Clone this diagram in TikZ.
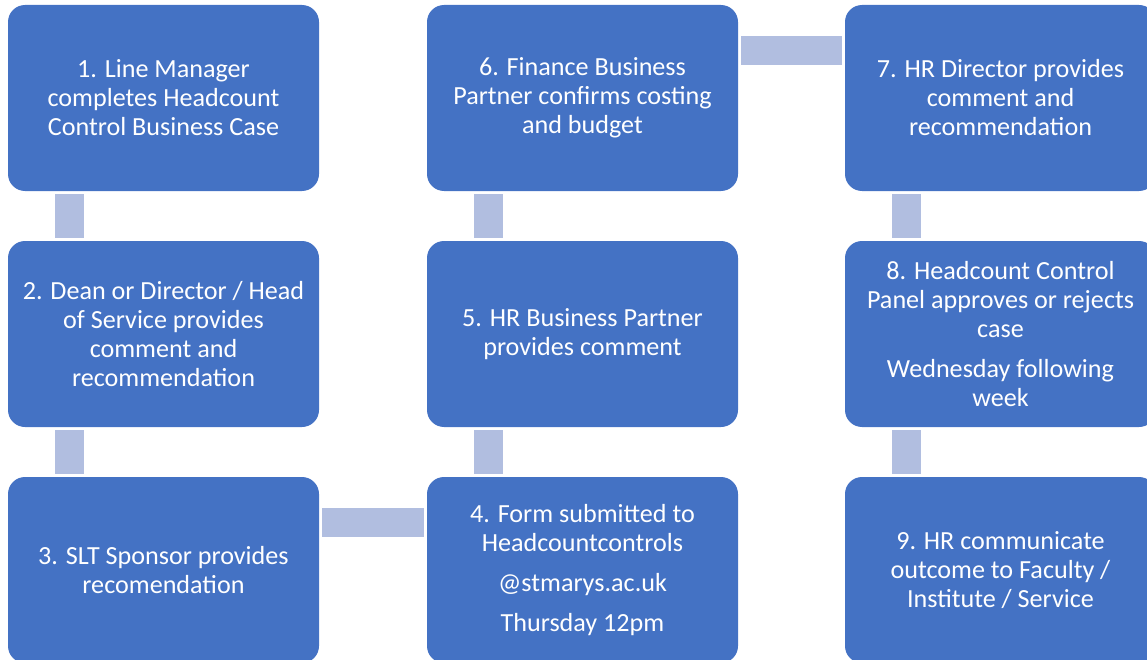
\documentclass[tikz,border=0pt]{standalone}
\usepackage{fontspec}
\setmainfont{Carlito}
\usetikzlibrary{shapes}

\begin{document}
\begin{tikzpicture}[x = 0.75pt, y = -0.75pt]
\tikzstyle{boxStyle}=[shape = rectangle, rounded corners = 12.75pt, fill = boxBlue, draw = none, text = white, minimum width = 233.25pt, minimum height = 139.5pt, inner sep = 0pt, align = center, font = \fontsize{19.6pt}{21.75pt}\selectfont]
\tikzstyle{linkStyle}=[draw = linkBlue, line width = 21.75pt, shorten > = 2.25pt, shorten < = 2.25pt]
\definecolor{boxBlue}{HTML}{4472C4}
\definecolor{linkBlue}{HTML}{B1BEE0}
\useasboundingbox (0,0) rectangle (1147,660);
\clip (0,0) rectangle (1147,660);
\node[style = boxStyle] (b1) at (163.5,98) {1. Line Manager\\completes Headcount\\Control Business Case};
\node[style = boxStyle] (b2) at (163.5,334) {2. Dean or Director / Head\\of Service provides\\comment and\\recommendation};
\node[style = boxStyle] (b3) at (163.5,570) {3. SLT Sponsor provides\\recomendation};
\node[style = boxStyle] (b4) at (582.5,570) {4. Form submitted to\\Headcountcontrols\\[8pt]@stmarys.ac.uk\\[8pt]Thursday 12pm};
\node[style = boxStyle] (b5) at (582.5,334) {5. HR Business Partner\\provides comment};
\node[style = boxStyle] (b6) at (582.5,98) {6. Finance Business\\Partner confirms costing\\and budget};
\node[style = boxStyle] (b7) at (1000.5,98) {7. HR Director provides\\comment and\\recommendation};
\node[style = boxStyle] (b8) at (1000.5,334) {8. Headcount Control\\Panel approves or rejects\\case\\[8pt]Wednesday following\\week};
\node[style = boxStyle] (b9) at (1000.5,570) {9. HR communicate\\outcome to Faculty /\\Institute / Service};
\draw[style = linkStyle] ([xshift = 46.5pt]b1.south west) -- ([xshift = 46.5pt]b2.north west);
\draw[style = linkStyle] ([xshift = 46.5pt]b2.south west) -- ([xshift = 46.5pt]b3.north west);
\draw[style = linkStyle] ([yshift = -34.5pt]b3.north east) -- ([yshift = -34.5pt]b4.north west);
\draw[style = linkStyle] ([xshift = 46.5pt]b4.north west) -- ([xshift = 46.5pt]b5.south west);
\draw[style = linkStyle] ([xshift = 46.5pt]b5.north west) -- ([xshift = 46.5pt]b6.south west);
\draw[style = linkStyle] ([yshift = -34.5pt]b6.north east) -- ([yshift = -34.5pt]b7.north west);
\draw[style = linkStyle] ([xshift = 46.5pt]b7.south west) -- ([xshift = 46.5pt]b8.north west);
\draw[style = linkStyle] ([xshift = 46.5pt]b8.south west) -- ([xshift = 46.5pt]b9.north west);
\end{tikzpicture}
\end{document}
